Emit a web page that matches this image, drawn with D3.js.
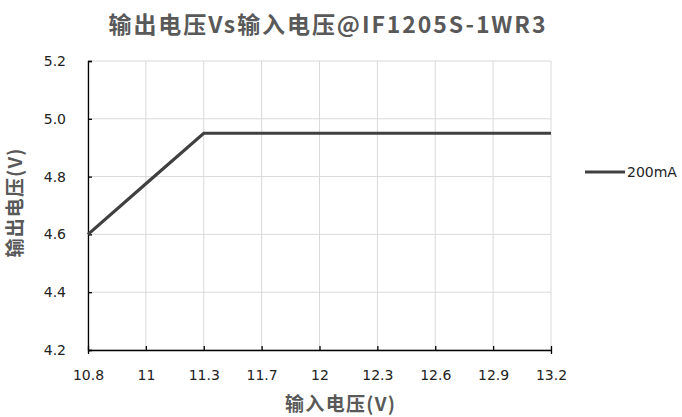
<!DOCTYPE html>
<html>
<head>
<meta charset="utf-8">
<script src="https://cdn.jsdelivr.net/npm/d3@7"></script>
<style>
  body { margin: 0; background: #fff; }
  text { font-family: "Noto Sans CJK SC", "Noto Sans", sans-serif; }
</style>
</head>
<body>
<script>
// chart values
const inputVoltage = ["10.8", "11", "11.3", "11.7", "12", "12.3", "12.6", "12.9", "13.2"];
const output200mA = [4.6, 4.775, 4.95, 4.95, 4.95, 4.95, 4.95, 4.95, 4.95];
const yTicks = [4.2, 4.4, 4.6, 4.8, 5.0, 5.2];
const seriesName = "200mA";

const width = 682;
const height = 417;
const margin = { top: 61, right: 131, bottom: 67, left: 88 };
const tickFont = "'DejaVu Sans', sans-serif";

const svg = d3
  .select("body")
  .append("svg")
  .attr("width", width)
  .attr("height", height);

const x = d3
  .scalePoint()
  .domain(inputVoltage)
  .range([margin.left, width - margin.right]);

const y = d3
  .scaleLinear()
  .domain([4.2, 5.2])
  .range([height - margin.bottom, margin.top]);

// grid lines
svg
  .append("g")
  .selectAll("line.hgrid")
  .data(yTicks)
  .enter()
  .append("line")
  .attr("x1", margin.left)
  .attr("x2", width - margin.right)
  .attr("y1", (d) => y(d))
  .attr("y2", (d) => y(d))
  .attr("stroke", "#d9d9d9")
  .attr("stroke-width", 1);

svg
  .append("g")
  .selectAll("line.vgrid")
  .data(inputVoltage)
  .enter()
  .append("line")
  .attr("x1", (d) => x(d))
  .attr("x2", (d) => x(d))
  .attr("y1", margin.top)
  .attr("y2", height - margin.bottom)
  .attr("stroke", "#d9d9d9")
  .attr("stroke-width", 1);

// axes
const xAxis = svg
  .append("g")
  .attr("transform", `translate(0,${height - margin.bottom})`)
  .call(d3.axisBottom(x).tickSize(4).tickPadding(16));

const yAxis = svg
  .append("g")
  .attr("transform", `translate(${margin.left},0)`)
  .call(
    d3
      .axisLeft(y)
      .tickValues(yTicks)
      .tickFormat(d3.format(".1f"))
      .tickSize(-4)
      .tickPadding(22)
  );

[xAxis, yAxis].forEach((g) => {
  g.select(".domain").attr("stroke", "#000").attr("stroke-width", 1.3);
  g.selectAll(".tick line").attr("stroke", "#000").attr("stroke-width", 1.3);
  g.selectAll(".tick text")
    .attr("fill", "#222")
    .style("font-size", "14px")
    .style("font-family", tickFont);
});
xAxis.selectAll(".tick line").attr("y1", -4).attr("y2", 0);

// series line
const line = d3
  .line()
  .x((d, i) => x(inputVoltage[i]))
  .y((d) => y(d));

svg
  .append("path")
  .datum(output200mA)
  .attr("d", line)
  .attr("fill", "none")
  .attr("stroke", "#404040")
  .attr("stroke-width", 3.2);

// legend
const legend = svg.append("g").attr("transform", "translate(585,172)");
legend
  .append("line")
  .attr("x1", 0)
  .attr("x2", 40)
  .attr("stroke", "#404040")
  .attr("stroke-width", 3.2);
legend
  .append("text")
  .attr("x", 42)
  .attr("dy", "0.35em")
  .attr("fill", "#222")
  .style("font-size", "14px")
  .style("font-family", tickFont)
  .text(seriesName);

// titles
svg
  .append("text")
  .attr("x", 327)
  .attr("y", 25)
  .attr("dy", "0.35em")
  .attr("text-anchor", "middle")
  .attr("fill", "#595959")
  .attr("textLength", 437)
  .attr("lengthAdjust", "spacing")
  .style("font-size", "23px")
  .style("font-weight", "bold")
  .text("输出电压Vs输入电压@IF1205S-1WR3");

svg
  .append("text")
  .attr("x", 340)
  .attr("y", 404)
  .attr("dy", "0.35em")
  .attr("text-anchor", "middle")
  .attr("fill", "#595959")
  .attr("textLength", 110)
  .attr("lengthAdjust", "spacing")
  .style("font-size", "19px")
  .style("font-weight", "bold")
  .text("输入电压(V)");

svg
  .append("text")
  .attr("transform", "translate(15,203) rotate(-90)")
  .attr("dy", "0.35em")
  .attr("text-anchor", "middle")
  .attr("fill", "#595959")
  .attr("textLength", 109)
  .attr("lengthAdjust", "spacing")
  .style("font-size", "19px")
  .style("font-weight", "bold")
  .text("输出电压(V)");
</script>
</body>
</html>
